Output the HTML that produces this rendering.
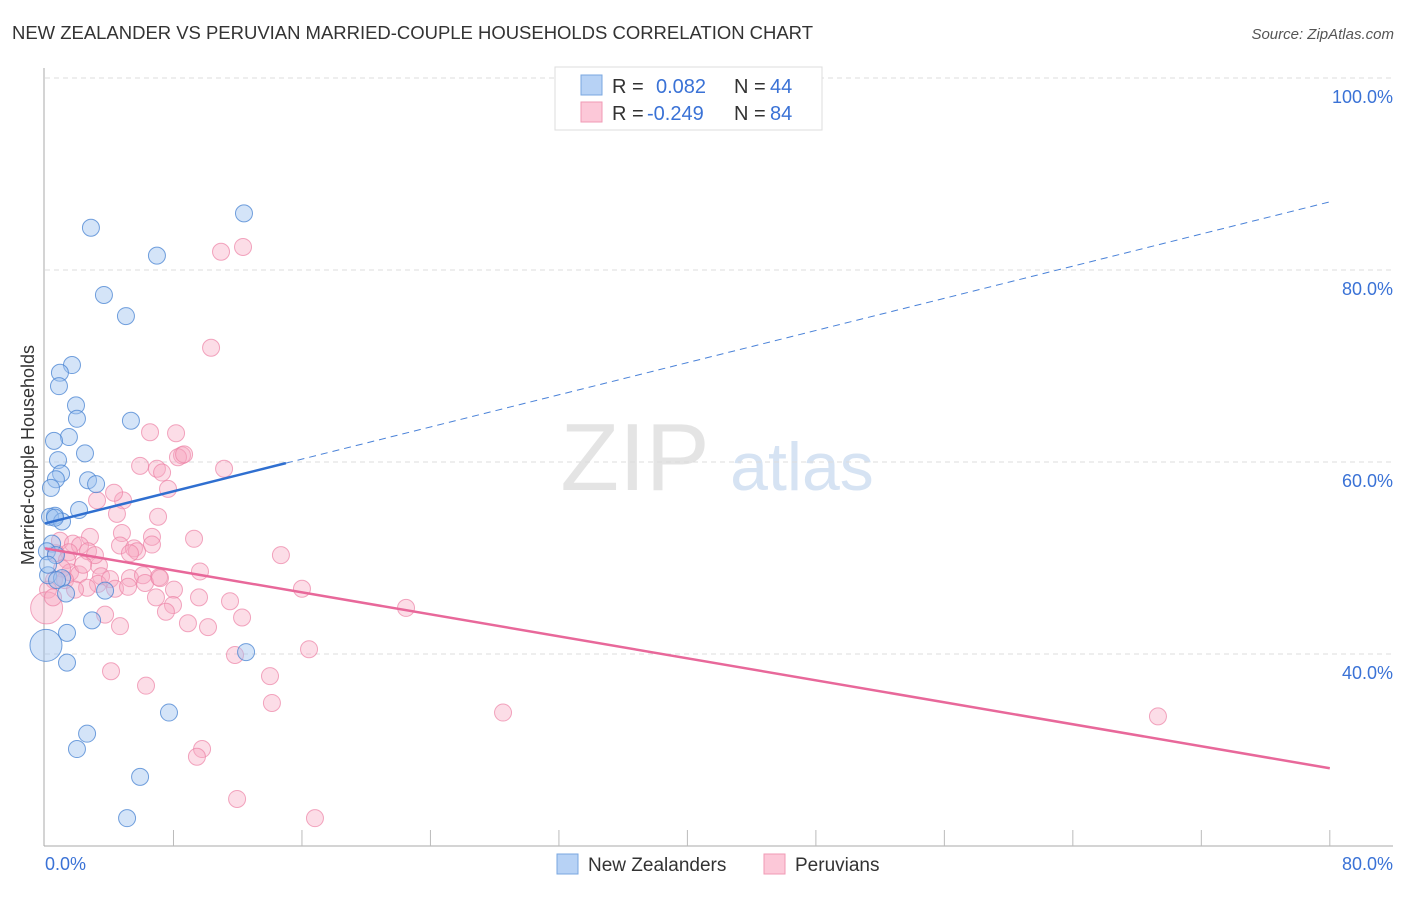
<!DOCTYPE html>
<html><head><meta charset="utf-8"><style>
body{margin:0;background:#fff;font-family:"Liberation Sans",sans-serif}
svg text{font-family:"Liberation Sans",sans-serif}
</style></head><body>
<svg width="1406" height="892" viewBox="0 0 1406 892" id="chart">
<text x="12" y="39" font-size="18.5" fill="#333" textLength="801">NEW ZEALANDER VS PERUVIAN MARRIED-COUPLE HOUSEHOLDS CORRELATION CHART</text>
<text x="1394" y="39" font-size="15" fill="#555" font-style="italic" text-anchor="end">Source: ZipAtlas.com</text>
<g>
<text x="635" y="490" font-size="96" fill="#e4e4e4" font-family="Liberation Serif,serif" text-anchor="middle">ZIP</text>
<text x="802" y="490" font-size="68" fill="#d6e3f3" text-anchor="middle">atlas</text>
</g>
<g id="grid"></g>
<g id="axes"></g>
<g id="pts"></g>
<g id="trends"></g>
<text x="34" y="455" font-size="18" fill="#333" text-anchor="middle" transform="rotate(-90 34 455)">Married-couple Households</text>
<g>
<rect x="555" y="67" width="267" height="63" fill="#fff" stroke="#ddd"/>
<rect x="581" y="75" width="21" height="20" fill="#b7d2f5" stroke="#7aa7e0"/>
<rect x="581" y="102" width="21" height="20" fill="#fcc8d8" stroke="#f09ab5"/>
<text x="612" y="93" font-size="20" fill="#333">R = </text><text x="656" y="93" font-size="20" fill="#3a72d6">0.082</text>
<text x="734" y="93" font-size="20" fill="#333">N = </text><text x="770" y="93" font-size="20" fill="#3a72d6">44</text>
<text x="612" y="120" font-size="20" fill="#333">R = </text><text x="647" y="120" font-size="20" fill="#3a72d6">-0.249</text>
<text x="734" y="120" font-size="20" fill="#333">N = </text><text x="770" y="120" font-size="20" fill="#3a72d6">84</text>
</g>
<g>
<rect x="557" y="854" width="21" height="20" fill="#b7d2f5" stroke="#7aa7e0"/>
<text x="588" y="871" font-size="19" fill="#333">New Zealanders</text>
<rect x="764" y="854" width="21" height="20" fill="#fcc8d8" stroke="#f09ab5"/>
<text x="795" y="871" font-size="19" fill="#333">Peruvians</text>
</g>
</svg>
<script>
const xTicks=[0,80];
const yTicks=[40,60,80,100];
const blueX=[2.86,12.39,6.97,3.67,5.04,1.68,0.93,0.87,1.93,1.99,5.35,1.49,0.56,0.81,2.49,1.00,0.68,2.68,3.18,0.37,2.12,0.62,0.31,1.06,0.44,0.12,0.68,0.19,1.06,0.75,3.74,1.31,2.93,1.37,0.06,1.37,12.52,7.72,2.62,1.99,5.92,5.11,0.62,0.19];
const blueY=[84.4,85.9,81.5,77.4,75.2,70.1,69.3,67.9,65.9,64.5,64.3,62.6,62.2,60.2,60.9,58.8,58.2,58.1,57.7,57.3,55.0,54.4,54.3,53.8,51.5,50.7,50.3,48.2,47.9,47.7,46.6,46.3,43.5,42.2,40.9,39.1,40.2,33.9,31.7,30.1,27.2,22.9,54.2,49.3];
const pinkX=[10.96,12.33,10.34,6.54,8.16,8.53,8.28,8.66,5.92,6.97,7.29,11.15,7.66,3.24,4.86,4.30,7.04,4.48,4.79,6.66,9.28,0.93,1.74,2.80,2.18,2.68,4.67,5.54,1.49,5.73,3.36,0.68,1.37,1.56,2.12,3.49,1.06,0.56,3.30,4.05,5.29,6.10,7.10,9.65,14.69,16.00,22.48,2.62,4.36,5.17,6.23,7.16,8.03,6.91,7.97,9.59,7.53,8.90,10.15,11.52,12.27,3.74,4.67,0.19,0.10,0.50,11.83,14.01,16.44,4.11,6.29,14.13,28.52,69.30,9.78,9.46,11.96,16.81,6.66,5.29,3.11,2.37,1.25,1.87];
const pinkY=[81.9,82.4,71.9,63.1,63.0,60.7,60.5,60.8,59.6,59.3,58.9,59.3,57.2,56.0,56.0,56.8,54.3,54.6,52.6,52.2,52.0,51.8,51.5,52.2,51.3,50.7,51.3,51.0,50.6,50.7,49.2,50.5,49.8,48.5,48.3,48.1,48.9,47.7,47.3,47.8,47.9,48.2,48.0,48.6,50.3,46.8,44.8,46.9,46.8,47.0,47.4,47.9,46.7,45.9,45.1,45.9,44.4,43.2,42.8,45.5,43.8,44.1,42.9,46.7,44.8,45.9,39.9,37.7,40.5,38.2,36.7,34.9,33.9,33.5,30.1,29.3,24.9,22.9,51.4,50.5,50.3,49.3,47.7,46.7];
const blueBig=[34];
const pinkBig=[64];
const blueTrend=[53.6,87.1];
const pinkTrend=[51.0,28.1];
const blueSolidEnd=15;
const X=v=>45+v*16.06, Y=v=>1038-v*9.6;
const NS="http://www.w3.org/2000/svg";
function mk(tag,attrs,parent){const e=document.createElementNS(NS,tag);for(const k in attrs)e.setAttribute(k,attrs[k]);parent.appendChild(e);return e;}
const grid=document.getElementById('grid'),axes=document.getElementById('axes'),pts=document.getElementById('pts'),tr=document.getElementById('trends');
yTicks.forEach(t=>{
 const l=mk('line',{x1:45,x2:1393,y1:Y(t),y2:Y(t),stroke:'#ddd','stroke-dasharray':'5,4'},grid);
 
 
 const tx=mk('text',{x:1393,y:Y(t)+25,'font-size':18,fill:'#3a72d6','text-anchor':'end'},axes);
 tx.textContent=t.toFixed(1)+'%';
 
 
});
const al=mk('line',{x1:44,x2:44,y1:68,y2:846,stroke:'#aaa'},axes);


const bl=mk('line',{x1:44,x2:1393,y1:846,y2:846,stroke:'#aaa'},axes);


for(let i=1;i<=10;i++){
 const tk=mk('line',{x1:X(i*8),x2:X(i*8),y1:830,y2:846,stroke:'#bbb'},axes);
 
 
}
xTicks.forEach((t,i)=>{
 const tx=mk('text',{x:i?1393:45,y:870,'font-size':18,fill:'#3a72d6','text-anchor':i?'end':'start'},axes);
 tx.textContent=t.toFixed(1)+'%';
 
 
});
pinkX.forEach((v,i)=>{
 const c=mk('circle',{cx:X(v),cy:Y(pinkY[i]),r:pinkBig.includes(i)?16:8.5,fill:'rgba(248,170,195,0.4)',stroke:'rgba(236,130,165,0.7)','stroke-width':1},pts);
 
 
});
blueX.forEach((v,i)=>{
 const c=mk('circle',{cx:X(v),cy:Y(blueY[i]),r:blueBig.includes(i)?16:8.5,fill:'rgba(160,195,240,0.45)',stroke:'rgba(70,130,210,0.75)','stroke-width':1},pts);
 
 
});
const by=x=>blueTrend[0]+(blueTrend[1]-blueTrend[0])*x/80;
const l1=mk('line',{x1:X(0),y1:Y(blueTrend[0]),x2:X(blueSolidEnd),y2:Y(by(blueSolidEnd)),stroke:'#2f6fd0','stroke-width':2.5},tr);


const l2=mk('line',{x1:X(blueSolidEnd),y1:Y(by(blueSolidEnd)),x2:X(80),y2:Y(blueTrend[1]),stroke:'#4a82d8','stroke-width':1,'stroke-dasharray':'7,5'},tr);


const l3=mk('line',{x1:X(0),y1:Y(pinkTrend[0]),x2:X(80),y2:Y(pinkTrend[1]),stroke:'#e8689a','stroke-width':2.5},tr);


</script>
</body></html>
